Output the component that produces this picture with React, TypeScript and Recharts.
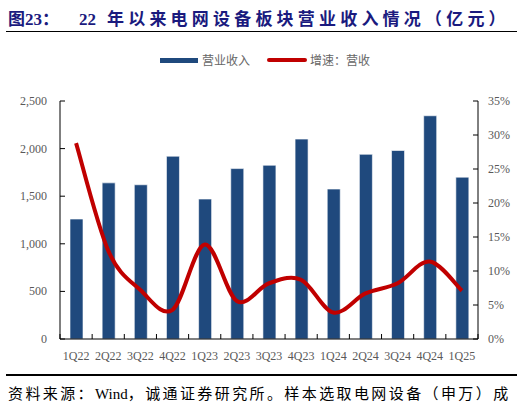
import React from 'react';
import { ComposedChart, Bar, Line, XAxis, YAxis, Legend } from 'recharts';

// 营业收入 (亿元) 与同比增速 (%)
const quarters = ['1Q22', '2Q22', '3Q22', '4Q22', '1Q23', '2Q23', '3Q23', '4Q23', '1Q24', '2Q24', '3Q24', '4Q24', '1Q25'];
const revenue = [1260, 1640, 1620, 1920, 1470, 1790, 1825, 2100, 1575, 1940, 1980, 2345, 1700];
const growth = [28.8, 13.0, 7.2, 4.3, 13.9, 5.6, 8.2, 8.7, 3.9, 6.7, 8.2, 11.4, 7.1];
const leftTicks = [0, 500, 1000, 1500, 2000, 2500];
const rightTicks = [0, 5, 10, 15, 20, 25, 30, 35];

const data = quarters.map((q, i) => ({ q, revenue: revenue[i], growth: growth[i] }));

const W = 530;
const H = 406;
const LEFT_W = 60;
const RIGHT_W = 52;
const STEP = (W - LEFT_W - RIGHT_W) / quarters.length;

const SERIF = '"Times New Roman", "Liberation Serif", serif';
const CJK = '"Noto Sans CJK SC", sans-serif';
const MIXED = `"Liberation Serif", ${CJK}`;
const GREY = '#595959';

// Excel-style smoothed line (Catmull-Rom through the points)
function smoothCurve(context: any) {
  let pts: number[][] = [];
  return {
    areaStart() {},
    areaEnd() {},
    lineStart() { pts = []; },
    point(x: number, y: number) { pts.push([+x, +y]); },
    lineEnd() {
      if (!pts.length) return;
      context.moveTo(pts[0][0], pts[0][1]);
      for (let i = 0; i < pts.length - 1; i++) {
        const p0 = pts[i - 1] || pts[i];
        const p1 = pts[i];
        const p2 = pts[i + 1];
        const p3 = pts[i + 2] || p2;
        context.bezierCurveTo(
          p1[0] + (p2[0] - p0[0]) / 6, p1[1] + (p2[1] - p0[1]) / 6,
          p2[0] - (p3[0] - p1[0]) / 6, p2[1] - (p3[1] - p1[1]) / 6,
          p2[0], p2[1]
        );
      }
    },
  };
}

const LeftTick = (props: any) => {
  const { x, y, payload } = props;
  return (
    <g>
      <line x1={x} x2={x + 5} y1={y} y2={y} stroke="#000" />
      <text x={x - 13} y={y + 4} textAnchor="end" fontSize={12} fontFamily={SERIF} fill={GREY}>
        {payload.value.toLocaleString('en-US')}
      </text>
    </g>
  );
};

const RightTick = (props: any) => {
  const { x, y, payload } = props;
  return (
    <g>
      <line x1={x} x2={x - 5} y1={y} y2={y} stroke="#000" />
      <text x={x + 10} y={y + 4} textAnchor="start" fontSize={12} fontFamily={SERIF} fill={GREY}>
        {payload.value}%
      </text>
    </g>
  );
};

const BottomTick = (props: any) => {
  const { x, y, payload, index } = props;
  return (
    <g>
      <line x1={x - STEP / 2} x2={x - STEP / 2} y1={y} y2={y - 5} stroke="#000" />
      {index === quarters.length - 1 && (
        <line x1={x + STEP / 2} x2={x + STEP / 2} y1={y} y2={y - 5} stroke="#000" />
      )}
      <text x={x} y={y + 21} textAnchor="middle" fontSize={12} fontFamily={SERIF} fill={GREY}>
        {payload.value}
      </text>
    </g>
  );
};

const LegendBox = () => (
  <div style={{ position: 'relative', height: 16, fontFamily: CJK, fontSize: 12, color: '#666' }}>
    <div style={{ position: 'absolute', left: 160, top: 6, width: 38, height: 5, background: '#1F497D' }} />
    <div style={{ position: 'absolute', left: 202, top: 0, lineHeight: '16px' }}>营业收入</div>
    <div style={{ position: 'absolute', left: 267, top: 6, width: 40, height: 4, borderRadius: 2, background: '#C00000' }} />
    <div style={{ position: 'absolute', left: 310, top: 0, lineHeight: '16px' }}>增速：营收</div>
  </div>
);

export default function App() {
  return (
    <div style={{ position: 'absolute', left: 0, top: 0, width: W, height: H, background: '#fff', overflow: 'hidden' }}>
      <div
        style={{
          position: 'absolute', left: 8, top: 5, whiteSpace: 'nowrap',
          fontFamily: MIXED, fontWeight: 'bold', fontSize: 17, color: '#1A1A7E',
        }}
      >
        <span>图23：</span>
        <span style={{ position: 'absolute', left: 71 }}>
          22<span style={{ marginLeft: 11, letterSpacing: 4.2 }}>年以来电网设备板块营业收入情况（亿元）</span>
        </span>
      </div>
      <div style={{ position: 'absolute', left: 6, top: 31, width: 511, height: 1, background: '#000' }} />

      <ComposedChart width={W} height={H} data={data} margin={{ top: 85, right: 0, bottom: 37, left: 0 }} barSize={13}>
        <Legend verticalAlign="top" content={<LegendBox />} wrapperStyle={{ top: 52, left: 0, width: W }} />
        <XAxis dataKey="q" height={30} tickLine={false} tickSize={0} tickMargin={0} axisLine={{ stroke: '#000' }} tick={<BottomTick />} interval={0} />
        <YAxis yAxisId="left" width={LEFT_W} domain={[0, 2500]} ticks={leftTicks} tickLine={false} tickSize={0} tickMargin={0} axisLine={{ stroke: '#000' }} tick={<LeftTick />} />
        <YAxis yAxisId="right" orientation="right" width={RIGHT_W} domain={[0, 35]} ticks={rightTicks} tickLine={false} tickSize={0} tickMargin={0} axisLine={{ stroke: '#000' }} tick={<RightTick />} />
        <Bar yAxisId="left" dataKey="revenue" name="营业收入" fill="#1F497D" stroke="#ffffff" strokeWidth={0.6} isAnimationActive={false} />
        <Line yAxisId="right" dataKey="growth" name="增速：营收" type={smoothCurve as any} stroke="#C00000" strokeWidth={4} dot={false} isAnimationActive={false} />
      </ComposedChart>

      <div style={{ position: 'absolute', left: 6, top: 374, width: 511, height: 1.5, background: '#000' }} />
      <div
        style={{
          position: 'absolute', left: 8, top: 382, whiteSpace: 'nowrap',
          fontFamily: MIXED, fontSize: 15, color: '#000',
        }}
      >
        <span style={{ letterSpacing: 2.4 }}>资料来源：</span>Wind<span style={{ letterSpacing: 2.4 }}>，诚通证券研究所。样本选取电网设备（申万）成</span>
      </div>
    </div>
  );
}
